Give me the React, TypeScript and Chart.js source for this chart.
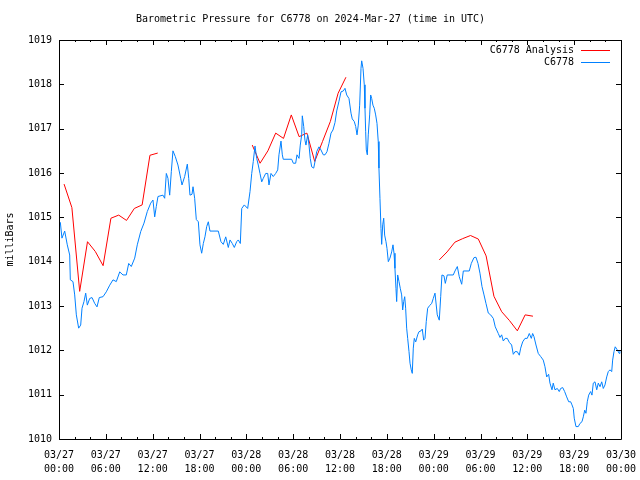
import React, { useEffect, useRef } from 'react';
import { Chart, registerables } from 'chart.js';

Chart.register(...registerables);

const FONT = '"DejaVu Sans Mono", "Liberation Mono", monospace';
const FONT_SIZE = 10;
const TITLE = 'Barometric Pressure for C6778 on 2024-Mar-27 (time in UTC)';
const Y_LABEL = 'milliBars';
const SERIES_ANALYSIS = 'C6778 Analysis';
const SERIES_OBS = 'C6778';

// X tick labels (every 6 h from 2024-03-27 00:00 UTC)
const DAY_LABELS = ['03/27', '03/28', '03/29', '03/30'];
const TIME_LABELS = ['00:00', '06:00', '12:00', '18:00'];

// Observations: hours since 03/27 00:00 UTC and pressure (mb)
const OBS_HOURS = [
  0.17, 0.38, 0.73, 1.06, 1.37, 1.45, 1.79, 2.01, 2.22, 2.52, 2.78, 2.95, 3.2, 3.42, 3.63, 3.93, 4.23, 4.57, 4.87, 5.16,
  5.64, 6.06, 6.5, 6.92, 7.34, 7.78, 8.2, 8.62, 8.93, 9.26, 9.7, 10.03, 10.47, 10.89, 11.31, 11.75, 12.04, 12.26, 12.46, 12.68,
  13.32, 13.54, 13.75, 13.96, 14.18, 14.39, 14.6, 14.9, 15.24, 15.59, 15.76, 16.1, 16.44, 16.62, 16.78, 17.04, 17.17, 17.38, 17.59, 17.85,
  18.06, 18.28, 18.49, 18.7, 18.92, 19.13, 19.34, 20.41, 20.75, 21.05, 21.36, 21.69, 21.91, 22.2, 22.46, 22.76, 22.97, 23.23, 23.41, 23.74,
  24.17, 24.47, 24.69, 24.89, 25.11, 25.33, 25.53, 25.75, 25.97, 26.17, 26.48, 26.74, 26.9, 27.16, 27.45, 27.76, 28.02, 28.18, 28.44, 28.61,
  28.73, 29.81, 30.02, 30.32, 30.49, 30.75, 30.91, 31.09, 31.17, 31.35, 31.51, 31.64, 31.86, 32.03, 32.19, 32.37, 32.63, 32.8, 33.01, 33.31,
  33.56, 33.86, 34.08, 34.33, 34.59, 34.85, 35.1, 35.36, 35.58, 35.87, 36.13, 36.42, 36.64, 36.86, 37.15, 37.41, 37.57, 37.83, 38.01, 38.18,
  38.34, 38.52, 38.69, 38.78, 38.95, 39.11, 39.2, 39.29, 39.37, 39.5, 39.62, 39.8, 39.93, 40.06, 40.22, 40.39, 40.57, 40.74, 40.9, 40.99,
  41.12, 41.25, 41.34, 41.47, 41.6, 41.72, 41.89, 42.02, 42.19, 42.4, 42.62, 42.79, 42.92, 43.04, 43.17, 43.26, 43.39, 43.56, 43.72, 43.9,
  44.03, 44.16, 44.29, 44.41, 44.54, 44.67, 44.84, 44.97, 45.13, 45.26, 45.39, 45.52, 45.7, 45.95, 46.12, 46.38, 46.54, 46.72, 46.89, 47.05,
  47.23, 47.49, 47.75, 47.95, 48.17, 48.46, 48.72, 48.9, 49.06, 49.32, 49.49, 49.74, 50.51, 50.73, 51.03, 51.28, 51.59, 51.8, 52.56, 52.82,
  53.16, 53.42, 53.68, 53.93, 54.19, 54.45, 54.7, 55.0, 55.3, 55.64, 55.89, 56.28, 56.5, 56.71, 56.92, 57.17, 57.43, 57.69, 57.99, 58.2,
  58.42, 58.71, 58.97, 59.15, 59.4, 59.7, 59.99, 60.25, 60.51, 60.68, 60.85, 61.11, 61.4, 61.71, 62.04, 62.26, 62.48, 62.73, 62.9, 63.16,
  63.32, 63.54, 63.84, 64.09, 64.27, 64.53, 64.78, 65.04, 65.3, 65.55, 65.72, 65.89, 66.01, 66.23, 66.53, 66.74, 67.0, 67.17, 67.35, 67.51,
  67.68, 67.86, 68.11, 68.28, 68.45, 68.67, 68.89, 69.09, 69.31, 69.53, 69.73, 69.95, 70.17, 70.37, 70.59, 70.81, 70.93, 71.1, 71.26, 71.52,
  71.77, 71.86,
];
const OBS_VALUES = [
  1014.89, 1014.53, 1014.69, 1014.38, 1014.15, 1013.59, 1013.55, 1013.25, 1012.8, 1012.5, 1012.57, 1012.95, 1013.1, 1013.29, 1013.02, 1013.17, 1013.19, 1013.06, 1012.98, 1013.19,
  1013.21, 1013.32, 1013.47, 1013.59, 1013.55, 1013.77, 1013.7, 1013.7, 1013.96, 1013.89, 1014.08, 1014.38, 1014.68, 1014.87, 1015.13, 1015.32, 1015.39, 1015.01, 1015.24, 1015.47,
  1015.5, 1015.43, 1015.99, 1015.88, 1015.5, 1016.03, 1016.5, 1016.37, 1016.18, 1015.88, 1015.73, 1015.92, 1016.2, 1015.88, 1015.5, 1015.52, 1015.69, 1015.43, 1014.95, 1014.9,
  1014.38, 1014.19, 1014.41, 1014.56, 1014.79, 1014.9, 1014.69, 1014.69, 1014.45, 1014.39, 1014.56, 1014.32, 1014.49, 1014.41, 1014.32, 1014.45, 1014.49, 1014.41, 1015.2, 1015.28,
  1015.2, 1015.58, 1015.99, 1016.26, 1016.61, 1016.33, 1016.18, 1015.99, 1015.8, 1015.88, 1015.99, 1015.99, 1015.73, 1015.99, 1015.92, 1015.99, 1016.07, 1016.41, 1016.72, 1016.41,
  1016.31, 1016.31, 1016.22, 1016.22, 1016.41, 1016.33, 1016.63, 1016.86, 1017.29, 1017.05, 1016.74, 1016.63, 1016.86, 1016.63, 1016.33, 1016.14, 1016.11, 1016.26, 1016.48, 1016.59,
  1016.52, 1016.41, 1016.41, 1016.48, 1016.67, 1016.9, 1016.97, 1017.14, 1017.4, 1017.62, 1017.83, 1017.85, 1017.91, 1017.76, 1017.68, 1017.35, 1017.22, 1017.16, 1017.05, 1016.86,
  1017.08, 1017.53, 1018.36, 1018.53, 1018.36, 1017.99, 1017.46, 1016.93, 1016.52, 1016.41, 1016.86, 1017.31, 1017.76, 1017.68, 1017.53, 1017.46, 1017.31, 1017.12, 1016.71, 1016.11,
  1015.43, 1014.75, 1014.39, 1014.83, 1014.98, 1014.6, 1014.45, 1014.3, 1014.0, 1014.08, 1014.22, 1014.38, 1014.19, 1013.85, 1013.4, 1013.1, 1013.7, 1013.55, 1013.4, 1013.25,
  1012.91, 1013.1, 1013.21, 1012.95, 1012.5, 1012.27, 1011.97, 1011.71, 1011.56, 1011.48, 1012.05, 1012.27, 1012.19, 1012.35, 1012.42, 1012.44, 1012.48, 1012.23, 1012.27, 1012.65,
  1012.95, 1013.01, 1013.06, 1013.17, 1013.29, 1012.8, 1012.68, 1013.21, 1013.7, 1013.68, 1013.51, 1013.7, 1013.7, 1013.79, 1013.89, 1013.66, 1013.49, 1013.79, 1013.79, 1013.96,
  1014.09, 1014.1, 1013.96, 1013.74, 1013.44, 1013.25, 1013.06, 1012.84, 1012.8, 1012.72, 1012.53, 1012.38, 1012.29, 1012.35, 1012.21, 1012.27, 1012.27, 1012.18, 1012.12, 1011.91,
  1011.97, 1011.97, 1011.89, 1012.05, 1012.19, 1012.27, 1012.27, 1012.38, 1012.27, 1012.38, 1012.31, 1012.12, 1011.93, 1011.86, 1011.78, 1011.63, 1011.4, 1011.46, 1011.26, 1011.11,
  1011.26, 1011.11, 1011.14, 1011.07, 1011.14, 1011.16, 1011.07, 1010.95, 1010.84, 1010.84, 1010.77, 1010.69, 1010.47, 1010.28, 1010.28, 1010.35, 1010.39, 1010.5, 1010.65, 1010.58,
  1010.84, 1010.99, 1011.07, 1010.99, 1011.26, 1011.29, 1011.11, 1011.26, 1011.18, 1011.29, 1011.14, 1011.22, 1011.4, 1011.52, 1011.56, 1011.52, 1011.78, 1011.97, 1012.08, 1012.01,
  1011.93, 1011.99,
];

// Analysis: three hourly runs (null = gap between runs)
const ANALYSIS_HOURS = [
  0.65, 1.65, 2.65, 3.65, 4.65, 5.65, 6.65, 7.65, 8.65, 9.65, 10.65, 11.65, 12.65,
  18.0,
  24.76, 25.76, 26.76, 27.76, 28.76, 29.76, 30.76, 31.76, 32.76, 33.76, 34.76, 35.76, 36.76,
  42.0,
  48.72, 49.72, 50.72, 51.72, 52.72, 53.72, 54.72, 55.72, 56.72, 57.72, 58.72, 59.72, 60.72,
];
const ANALYSIS_VALUES = [
  1015.75, 1015.22, 1013.33, 1014.45, 1014.23, 1013.91, 1014.98, 1015.05, 1014.93, 1015.2, 1015.28, 1016.4, 1016.45,
  null,
  1016.63, 1016.22, 1016.5, 1016.9, 1016.78, 1017.31, 1016.82, 1016.9, 1016.26, 1016.71, 1017.16, 1017.8, 1018.16,
  null,
  1014.04, 1014.22, 1014.44, 1014.52, 1014.59, 1014.51, 1014.13, 1013.22, 1012.87, 1012.67, 1012.44, 1012.8, 1012.77,
];

const RED = '#ff0000';
const BLUE = '#0080ff';

export default function App() {
  const ref = useRef<HTMLCanvasElement | null>(null);

  useEffect(() => {
    const canvas = ref.current;
    if (!canvas) return;

    const framePlugin = {
      id: 'gnuFrame',
      afterDraw(chart: any) {
        const { ctx, chartArea } = chart;
        const xs = chart.scales.x;
        const ys = chart.scales.y;
        const { left, right, top, bottom } = chartArea;
        ctx.save();
        ctx.strokeStyle = '#000';
        ctx.lineWidth = 1;
        ctx.beginPath();
        ctx.rect(Math.round(left) + 0.5, Math.round(top) + 0.5, Math.round(right - left), Math.round(bottom - top));
        ctx.stroke();
        // x ticks (inward, top and bottom), major every 6h, minor every 2h
        ctx.beginPath();
        for (let h = 0; h <= 72; h += 2) {
          const px = Math.round(xs.getPixelForValue(h)) + 0.5;
          const len = h % 6 === 0 ? 5 : 2;
          ctx.moveTo(px, Math.round(bottom));
          ctx.lineTo(px, Math.round(bottom) - len);
          ctx.moveTo(px, Math.round(top));
          ctx.lineTo(px, Math.round(top) + len);
        }
        // y ticks (inward, left and right)
        for (let v = 1010; v <= 1019; v += 1) {
          const py = Math.round(ys.getPixelForValue(v)) + 0.5;
          ctx.moveTo(Math.round(left), py);
          ctx.lineTo(Math.round(left) + 5, py);
          ctx.moveTo(Math.round(right), py);
          ctx.lineTo(Math.round(right) - 5, py);
        }
        ctx.stroke();

        // key (top right, inside plot)
        ctx.font = `${FONT_SIZE}px ${FONT}`;
        ctx.fillStyle = '#000';
        ctx.textAlign = 'right';
        ctx.textBaseline = 'middle';
        const entries = [
          { label: SERIES_ANALYSIS, color: RED, y: 50 },
          { label: SERIES_OBS, color: BLUE, y: 62 },
        ];
        for (const e of entries) {
          ctx.fillText(e.label, 574, e.y);
          ctx.beginPath();
          ctx.strokeStyle = e.color;
          ctx.lineWidth = 1;
          ctx.moveTo(581, e.y + 0.5);
          ctx.lineTo(610, e.y + 0.5);
          ctx.stroke();
        }
        ctx.restore();
      },
    };

    const obsData = OBS_HOURS.map((h, i) => ({ x: h, y: OBS_VALUES[i] }));
    const anaData = ANALYSIS_HOURS.map((h, i) => ({ x: h, y: ANALYSIS_VALUES[i] }));

    const tickFont = { family: FONT, size: FONT_SIZE, weight: 'normal' as const, lineHeight: 1.4 };

    const chart = new Chart(canvas, {
      type: 'line',
      data: {
        datasets: [
          {
            label: SERIES_ANALYSIS,
            data: anaData as any,
            borderColor: RED,
            backgroundColor: RED,
            borderWidth: 1,
            pointRadius: 0,
            fill: false,
            spanGaps: false,
            tension: 0,
            order: 1,
          },
          {
            label: SERIES_OBS,
            data: obsData as any,
            borderColor: BLUE,
            backgroundColor: BLUE,
            borderWidth: 1,
            pointRadius: 0,
            fill: false,
            tension: 0,
            order: 0,
          },
        ],
      },
      options: {
        responsive: false,
        animation: false,
        devicePixelRatio: 1,
        parsing: false as any,
        normalized: true,
        layout: { padding: { top: 0, right: 19, left: 0, bottom: 0 } },
        plugins: {
          legend: { display: false },
          tooltip: { enabled: false },
          title: {
            display: true,
            text: TITLE,
            color: '#000',
            font: { family: FONT, size: FONT_SIZE, weight: 'normal', lineHeight: 1.2 },
            padding: { top: 13, bottom: 15 },
          },
        },
        scales: {
          x: {
            type: 'linear',
            min: 0,
            max: 72,
            afterFit: (s: any) => {
              s.height = 41;
              s.paddingLeft = 0;
              s.paddingRight = 0;
            },
            grid: { display: false, drawTicks: false },
            border: { display: false },
            ticks: {
              stepSize: 6,
              autoSkip: false,
              maxRotation: 0,
              minRotation: 0,
              padding: 9,
              color: '#000',
              font: tickFont,
              callback: (v: any) => {
                const n = Number(v);
                const day = Math.floor(n / 24);
                const t = Math.round((n % 24) / 6);
                return [DAY_LABELS[day], TIME_LABELS[t]];
              },
            },
          },
          y: {
            min: 1010,
            max: 1019,
            afterFit: (s: any) => {
              s.width = 59;
              s.paddingTop = 0;
              s.paddingBottom = 0;
            },
            grid: { display: false, drawTicks: false },
            border: { display: false },
            ticks: {
              stepSize: 1,
              padding: 7,
              color: '#000',
              font: { family: FONT, size: FONT_SIZE, weight: 'normal' },
              callback: (v: any) => String(v),
            },
            title: {
              display: true,
              text: Y_LABEL,
              color: '#000',
              font: { family: FONT, size: FONT_SIZE, weight: 'normal', lineHeight: 1.2 },
              padding: { top: 4, bottom: 0 },
            },
          },
        },
      },
      plugins: [framePlugin],
    });

    return () => chart.destroy();
  }, []);

  return (
    <div style={{ position: 'absolute', left: 0, top: 0, width: 640, height: 480, background: '#fff' }}>
      <canvas ref={ref} width={640} height={480} style={{ display: 'block', width: 640, height: 480 }} />
    </div>
  );
}
